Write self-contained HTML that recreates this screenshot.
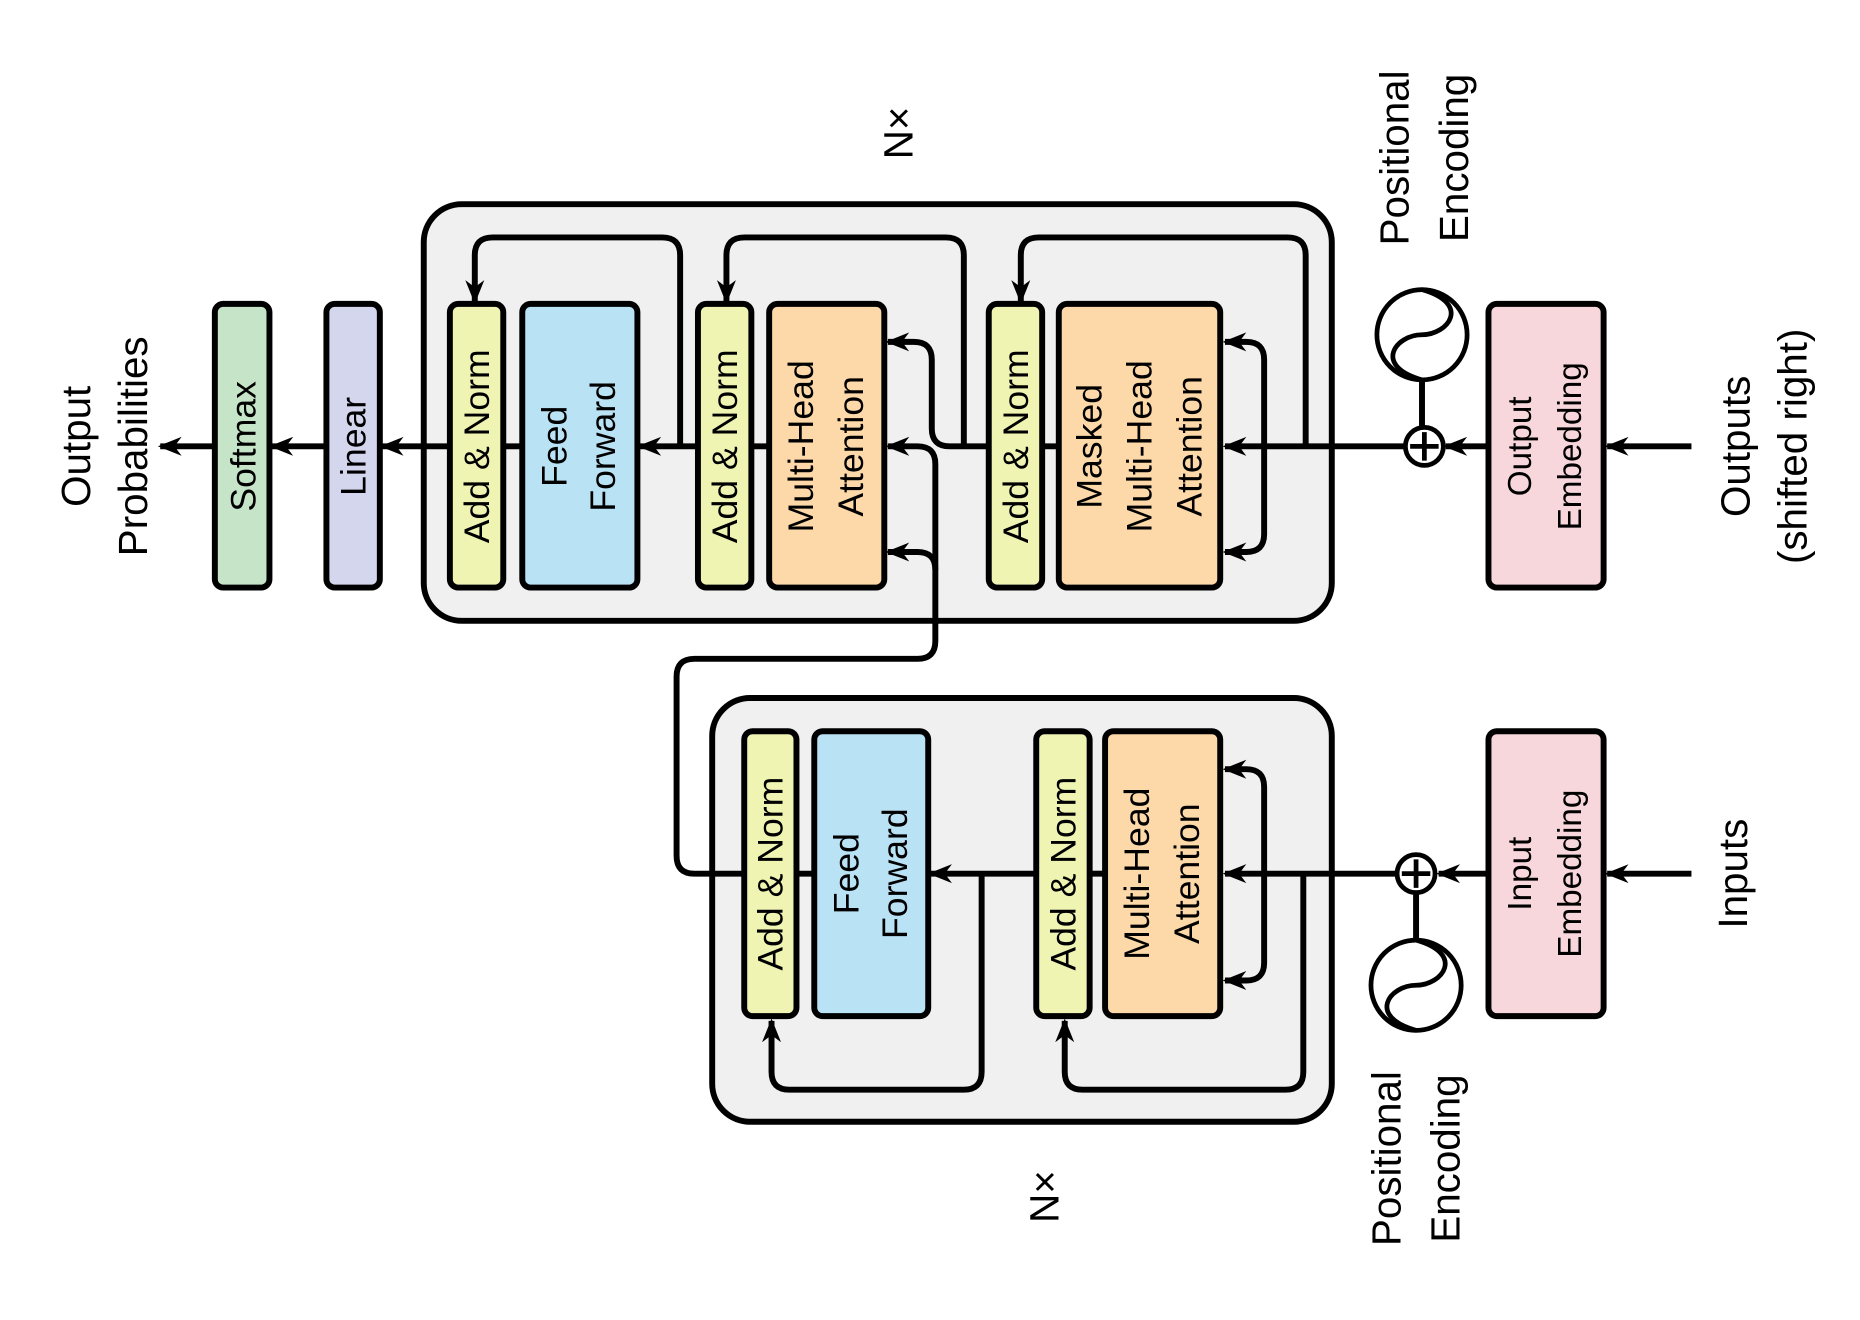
<!DOCTYPE html>
<html><head><meta charset="utf-8"><style>html,body{margin:0;padding:0;background:#fff}svg{display:block}</style></head>
<body>
<svg width="1860" height="1320" viewBox="0 0 1567 1112" preserveAspectRatio="none" xmlns="http://www.w3.org/2000/svg" font-family="Liberation Sans, sans-serif">
<defs>
<marker id="ar" viewBox="0 0 20 20" refX="18" refY="10" markerWidth="20" markerHeight="20" orient="auto" markerUnits="userSpaceOnUse">
<path d="M0,2 L20,10 L0,18 L6,10 Z" fill="#000"/>
</marker>
</defs>
<rect x="357" y="172" width="765" height="351" rx="32" fill="#f0f0f0" stroke="#000" stroke-width="5"/>
<rect x="600" y="588" width="522" height="357" rx="32" fill="#f0f0f0" stroke="#000" stroke-width="5"/>
<g fill="none" stroke="#000" stroke-width="5">
<path d="M1425,376 H1354" marker-end="url(#ar)"/>
<path d="M1254,376 H1218" marker-end="url(#ar)"/>
<path d="M1184,376 H1032" marker-end="url(#ar)"/>
<path d="M1100,376 V215 Q1100,200 1085,200 H875 Q860,200 860,215 V254" marker-end="url(#ar)"/>
<path d="M1065,376 V303 Q1065,288 1050,288 H1032" marker-end="url(#ar)"/>
<path d="M1065,376 V450 Q1065,465 1050,465 H1032" marker-end="url(#ar)"/>
<path d="M892,376 H878"/>
<path d="M833,376 H800 Q785,376 785,361 V303 Q785,288 770,288 H748" marker-end="url(#ar)"/>
<path d="M812,376 V215 Q812,200 797,200 H627 Q612,200 612,215 V254" marker-end="url(#ar)"/>
<path d="M648,376 H633"/>
<path d="M588,376 H539" marker-end="url(#ar)"/>
<path d="M573,376 V215 Q573,200 558,200 H415 Q400,200 400,215 V254" marker-end="url(#ar)"/>
<path d="M440,376 H424"/>
<path d="M379,376 H322" marker-end="url(#ar)"/>
<path d="M275,376 H229" marker-end="url(#ar)"/>
<path d="M181,376 H135" marker-end="url(#ar)"/>
<path d="M627,736 H585 Q570,736 570,721 V570 Q570,555 585,555 H773 Q788,555 788,540 V480 Q788,465 773,465 H748" marker-end="url(#ar)"/>
<path d="M788,480 V391 Q788,376 773,376 H748" marker-end="url(#ar)"/>
<path d="M1425,736 H1354" marker-end="url(#ar)"/>
<path d="M1254,736 H1212" marker-end="url(#ar)"/>
<path d="M1177,736 H1032" marker-end="url(#ar)"/>
<path d="M1065,736 V663 Q1065,648 1050,648 H1032" marker-end="url(#ar)"/>
<path d="M1065,736 V811 Q1065,826 1050,826 H1032" marker-end="url(#ar)"/>
<path d="M1098,736 V903 Q1098,918 1083,918 H912 Q897,918 897,903 V860" marker-end="url(#ar)"/>
<path d="M931,736 H918"/>
<path d="M873,736 H784" marker-end="url(#ar)"/>
<path d="M827,736 V903 Q827,918 812,918 H665 Q650,918 650,903 V860" marker-end="url(#ar)"/>
<path d="M686,736 H671"/>
<path d="M1198,320 V360"/>
<path d="M1193,752 V792"/>
</g>
<g stroke="#000" stroke-width="5">
<rect x="181" y="256" width="46" height="239" rx="7" fill="#c6e5c8"/>
<rect x="275" y="256" width="45" height="239" rx="7" fill="#d3d6ec"/>
<rect x="379" y="256" width="45" height="239" rx="7" fill="#eff4b3"/>
<rect x="440" y="256" width="97" height="239" rx="7" fill="#b9e2f4"/>
<rect x="588" y="256" width="45" height="239" rx="7" fill="#eff4b3"/>
<rect x="648" y="256" width="97" height="239" rx="7" fill="#fdd9a9"/>
<rect x="833" y="256" width="45" height="239" rx="7" fill="#eff4b3"/>
<rect x="892" y="256" width="136" height="239" rx="7" fill="#fdd9a9"/>
<rect x="1254" y="256" width="97" height="239" rx="7" fill="#f8d7dc"/>
<rect x="627" y="616" width="44" height="240" rx="7" fill="#eff4b3"/>
<rect x="686" y="616" width="96" height="240" rx="7" fill="#b9e2f4"/>
<rect x="873" y="616" width="45" height="240" rx="7" fill="#eff4b3"/>
<rect x="931" y="616" width="97" height="240" rx="7" fill="#fdd9a9"/>
<rect x="1254" y="616" width="97" height="240" rx="7" fill="#f8d7dc"/>
</g>
<g fill="#fff" stroke="#000" stroke-width="4">
<circle cx="1200" cy="376" r="16"/>
<circle cx="1193" cy="736" r="16"/>
<circle cx="1198" cy="282" r="38"/>
<circle cx="1193" cy="830" r="38"/>
</g>
<g fill="none" stroke="#000" stroke-width="4">
<path d="M1200,364 V388 M1188,376 H1212"/>
<path d="M1193,724 V748 M1181,736 H1205"/>
<path d="M1198,244 C1240,256 1220,282 1198,282 C1176,282 1156,308 1198,320"/>
<path d="M1193,792 C1235,804 1215,830 1193,830 C1171,830 1151,856 1193,868"/>
</g>
<g fill="#000" font-size="30" text-anchor="middle" dominant-baseline="central">
<text transform="translate(205,376) rotate(-90)">Softmax</text>
<text transform="translate(298,376) rotate(-90)">Linear</text>
<text transform="translate(402,376) rotate(-90)">Add &amp; Norm</text>
<text transform="translate(611,376) rotate(-90)">Add &amp; Norm</text>
<text transform="translate(856,376) rotate(-90)">Add &amp; Norm</text>
<text transform="translate(649,736) rotate(-90)">Add &amp; Norm</text>
<text transform="translate(896,736) rotate(-90)">Add &amp; Norm</text>
<text transform="translate(467,376) rotate(-90)">Feed</text>
<text transform="translate(508,376) rotate(-90)">Forward</text>
<text transform="translate(713,736) rotate(-90)">Feed</text>
<text transform="translate(754,736) rotate(-90)">Forward</text>
<text transform="translate(675,376) rotate(-90)">Multi-Head</text>
<text transform="translate(717,376) rotate(-90)">Attention</text>
<text transform="translate(918,376) rotate(-90)">Masked</text>
<text transform="translate(960,376) rotate(-90)">Multi-Head</text>
<text transform="translate(1002,376) rotate(-90)">Attention</text>
<text transform="translate(958,736) rotate(-90)">Multi-Head</text>
<text transform="translate(1000,736) rotate(-90)">Attention</text>
<text font-size="28" transform="translate(1281,376) rotate(-90)">Output</text>
<text font-size="28" transform="translate(1323,376) rotate(-90)">Embedding</text>
<text font-size="28" transform="translate(1281,736) rotate(-90)">Input</text>
<text font-size="28" transform="translate(1323,736) rotate(-90)">Embedding</text>
<g font-size="34">
<text transform="translate(64,376) rotate(-90)">Output</text>
<text transform="translate(112,376) rotate(-90)">Probabilities</text>
<text transform="translate(1462,376) rotate(-90)">Outputs</text>
<text transform="translate(1510,376) rotate(-90)">(shifted right)</text>
<text transform="translate(1460,736) rotate(-90)">Inputs</text>
<text transform="translate(1175,133) rotate(-90)">Positional</text>
<text transform="translate(1225,133) rotate(-90)">Encoding</text>
<text transform="translate(1168,976) rotate(-90)">Positional</text>
<text transform="translate(1218,976) rotate(-90)">Encoding</text>
<text transform="translate(757,112) rotate(-90)">N×</text>
<text transform="translate(880,1008) rotate(-90)">N×</text>
</g>
</g>
</svg>
</body></html>
